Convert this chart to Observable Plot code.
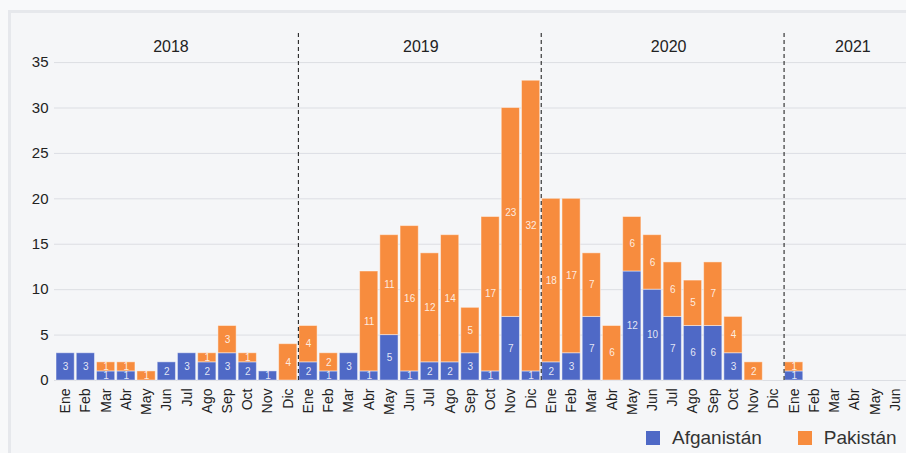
<!DOCTYPE html>
<html>
<head>
<meta charset="utf-8">
<script src="https://cdn.jsdelivr.net/npm/d3@7"></script>
<script src="https://cdn.jsdelivr.net/npm/@observablehq/plot@0.6"></script>
<style>
  html, body { margin: 0; padding: 0; background: #f8f9fa; width: 906px; height: 453px; overflow: hidden; font-family: "Liberation Sans", Arial, sans-serif; }
  #frame { position: absolute; left: 8px; top: 10px; width: 920px; height: 460px; border: 3px solid #e6e8ec; background: #f5f6f8; box-sizing: border-box; }
  #chart { position: absolute; left: 0; top: 0; }
  #legend { position: absolute; top: 427px; left: 646px; display: flex; align-items: center; font-size: 19px; color: #333; white-space: nowrap; }
  .sw { display: inline-block; width: 14px; height: 14px; margin-right: 12px; }
  .item { display: flex; align-items: center; }
</style>
</head>
<body>
<div id="frame"></div>
<div id="chart"></div>
<div id="legend"></div>
<script>
const years = [2018, 2019, 2020, 2021];
const monthLabels = ["Ene","Feb","Mar","Abr","May","Jun","Jul","Ago","Sep","Oct","Nov","Dic"];
const monthsPerYear = [12, 12, 12, 6];
const seriesNames = ["Afganistán", "Pakistán"];
const seriesColors = ["#4f69c6", "#f78c3e"];
const yTicks = [0, 5, 10, 15, 20, 25, 30, 35];

const afganistan = [
  3,3,1,1,0,2,3,2,3,2,1,0,
  2,1,3,1,5,1,2,2,3,1,7,1,
  2,3,7,0,12,10,7,6,6,3,0,0,
  1,0,0,0,0,0
];
const pakistan = [
  0,0,1,1,1,0,0,1,3,1,0,4,
  4,2,0,11,11,16,12,14,5,17,23,32,
  18,17,7,6,6,6,6,5,7,4,2,0,
  1,0,0,0,0,0
];

// build keys
const keys = [];
const keyMonth = new Map();
years.forEach((yr, yi) => {
  for (let m = 0; m < monthsPerYear[yi]; m++) {
    const k = `${yr}-${String(m + 1).padStart(2, "0")}`;
    keys.push(k);
    keyMonth.set(k, monthLabels[m]);
  }
});

const rows = [];
keys.forEach((k, i) => {
  rows.push({key: k, series: seriesNames[0], value: afganistan[i]});
  rows.push({key: k, series: seriesNames[1], value: pakistan[i]});
});

const W = 906, H = 425, ML = 54, MR = 0;
const pad = 0.1;
const step = (W - ML - MR) / (keys.length - pad + 2 * pad);

const yearStarts = years.slice(1).map(y => `${y}-01`);
const yearLabelRows = [
  {key: "2018-07", label: "2018", shift: -step / 2 - 6},
  {key: "2019-07", label: "2019", shift: -step / 2 + 1},
  {key: "2020-07", label: "2020", shift: -step / 2 + 6},
  {key: "2021-04", label: "2021", shift: -2}
];

const chart = Plot.plot({
  width: W,
  height: H,
  marginLeft: ML,
  marginRight: MR,
  marginTop: 33,
  marginBottom: 45,
  style: {background: "transparent", fontFamily: "'Liberation Sans', Arial, sans-serif", overflow: "hidden"},
  x: {type: "band", domain: keys, padding: pad, round: false, label: null},
  y: {domain: [0, 38.2], label: null},
  color: {domain: seriesNames, range: seriesColors},
  marks: [
    Plot.gridY(yTicks, {stroke: "#dcdee3", strokeOpacity: 1, strokeWidth: 1}),
    Plot.axisY(yTicks, {tickSize: 0, tickPadding: 6, fontSize: 15, fill: "#222", label: null}),
    Plot.axisX({tickSize: 0, tickPadding: 8, tickRotate: -90, fontSize: 14, fill: "#222", tickFormat: d => keyMonth.get(d), label: null}),
    Plot.barY(rows, Plot.stackY({x: "key", y: "value", fill: "series", order: seriesNames, stroke: "#ffffff", strokeOpacity: 0.45, strokeWidth: 1})),
    Plot.text(rows, Plot.stackY({
      filter: d => d.value > 0,
      x: "key", y: "value", z: "series", order: seriesNames,
      text: d => String(d.value),
      fill: "white", fillOpacity: 0.85, fontSize: 10
    })),
    ...yearStarts.map(k => Plot.ruleX([k], {x: d => d, dx: -step / 2, stroke: "#111", strokeDasharray: "4,3", strokeWidth: 1})),
    ...yearLabelRows.map(r => Plot.text([r], {x: "key", text: "label", frameAnchor: "top", lineAnchor: "middle", dy: 13, dx: r.shift, fontSize: 16, fill: "#222"}))
  ]
});
document.getElementById("chart").appendChild(chart);

const legend = document.getElementById("legend");
seriesNames.forEach((s, i) => {
  const item = document.createElement("div");
  item.className = "item";
  if (i > 0) item.style.marginLeft = "36px";
  const sw = document.createElement("span");
  sw.className = "sw";
  sw.style.background = seriesColors[i];
  const t = document.createElement("span");
  t.textContent = s;
  item.appendChild(sw);
  item.appendChild(t);
  legend.appendChild(item);
});
</script>
</body>
</html>
